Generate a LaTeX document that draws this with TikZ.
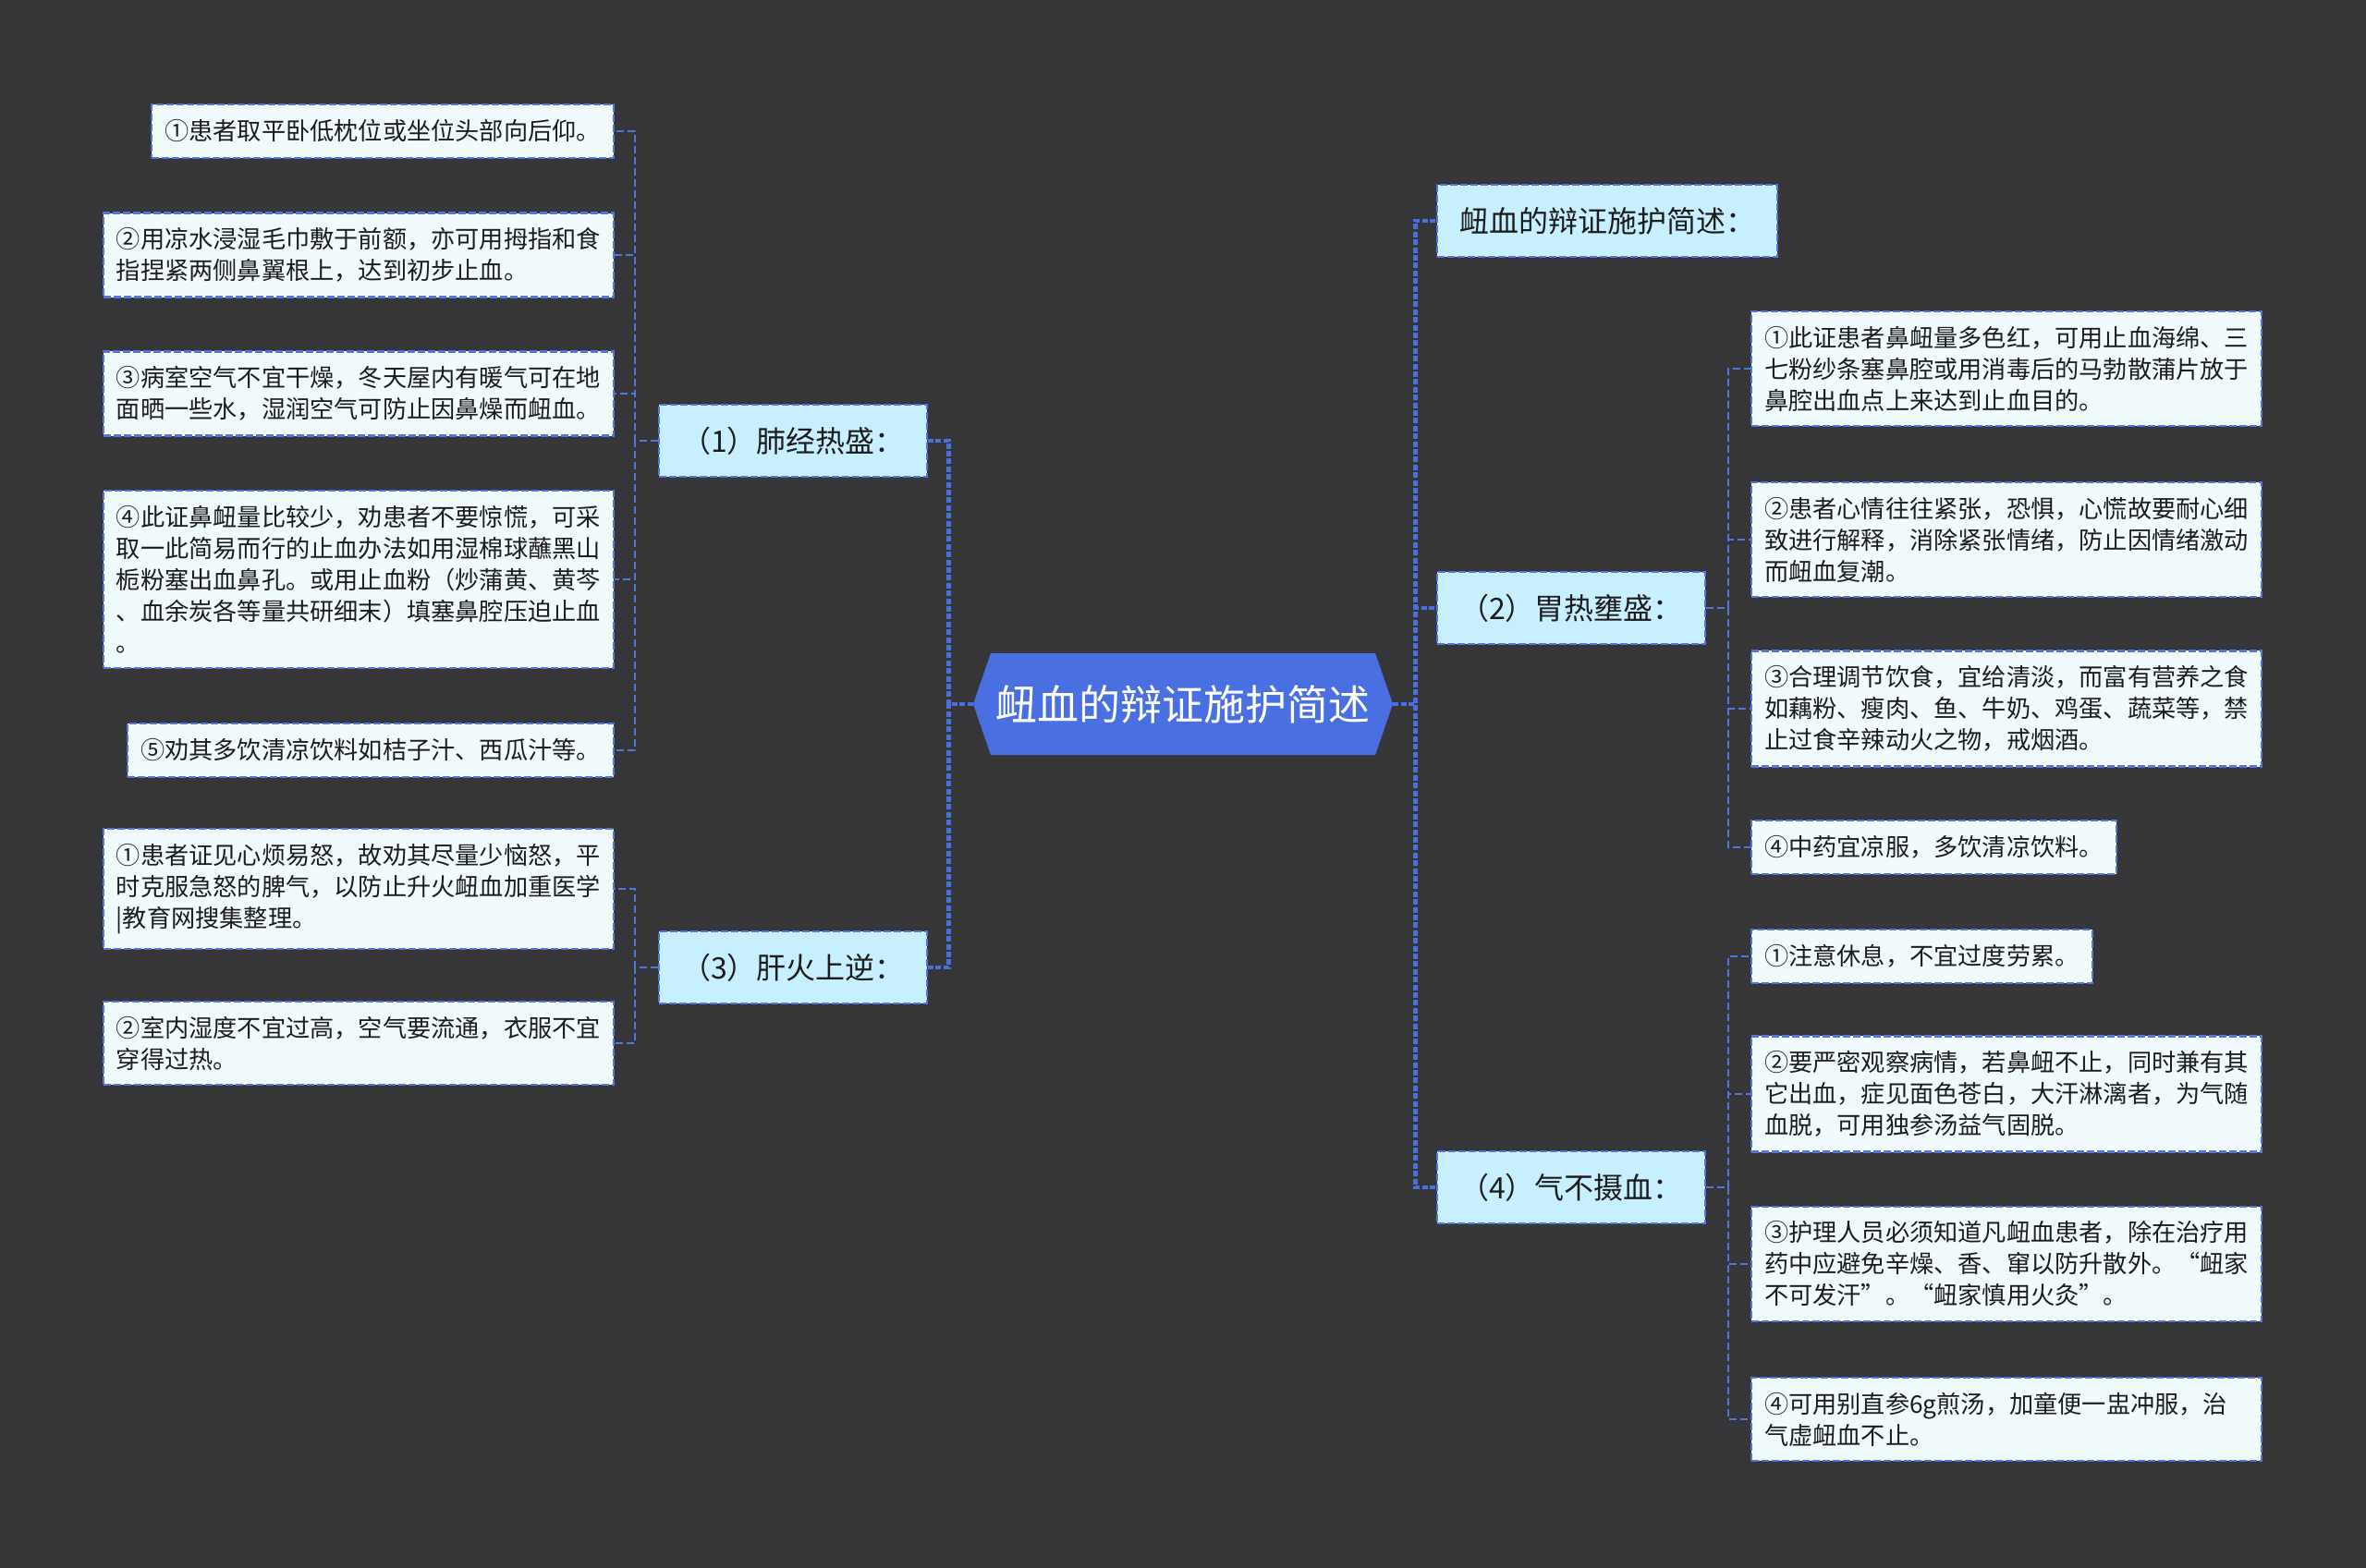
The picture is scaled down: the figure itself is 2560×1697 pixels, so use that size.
\documentclass[tikz,border=0pt]{standalone}
\usepackage{fontspec}
\setmainfont{Noto Sans CJK SC}
\usetikzlibrary{positioning,shapes.symbols}
\definecolor{Board}{HTML}{363538}
\definecolor{Royal}{HTML}{4A6FE1}
\definecolor{Edge}{HTML}{5375DC}
\definecolor{Sky}{HTML}{C8EFFE}
\definecolor{Frost}{HTML}{F1FBFE}
\definecolor{Ink}{HTML}{1C1C1C}
\tikzset{
  rootbox/.style={shape=signal,signal to=west and east,signal pointer angle=142,fill=Royal,text=white,minimum width=227pt,minimum height=55pt,inner sep=0pt,font=\fontsize{22.5}{26}\selectfont},
  branchbox/.style={draw=Edge,dash pattern=on 4pt off 1.5pt,line width=1.1pt,fill=Sky,text=Ink,minimum height=39pt,inner xsep=12pt,font=\fontsize{16}{20}\selectfont},
  leafbox/.style={draw=Edge,dash pattern=on 4pt off 1.5pt,line width=1.1pt,fill=Frost,text=Ink,align=left,inner xsep=7pt,inner ysep=8pt,minimum height=29pt,font=\fontsize{13.1}{17}\selectfont},
  widebox/.style={leafbox,text width=262pt},
  trunk/.style={draw=Royal,line width=2.2pt,dash pattern=on 3pt off 1.2pt},
  twig/.style={draw=Edge,line width=1pt,dash pattern=on 4pt off 2pt}
}

\begin{document}
\begin{tikzpicture}[x=0.5pt,y=-0.5pt]
  \fill[Board] (0,0) rectangle (2560,1697);
  \useasboundingbox (0,0) rectangle (2560,1697);

  \node[rootbox] (root) at (1280,762) {衄血的辩证施护简述};

  % left side
  \node[branchbox,anchor=east] (b1) at (1004,477) {（1）肺经热盛：};
  \node[branchbox,anchor=east] (b3) at (1004,1047) {（3）肝火上逆：};

  \node[leafbox,anchor=east] (l11) at (665,142) {①患者取平卧低枕位或坐位头部向后仰。};
  \node[widebox,anchor=east] (l12) at (665,276) {②用凉水浸湿毛巾敷于前额，亦可用拇指和食\\指捏紧两侧鼻翼根上，达到初步止血。};
  \node[widebox,anchor=east] (l13) at (665,426) {③病室空气不宜干燥，冬天屋内有暖气可在地\\面晒一些水，湿润空气可防止因鼻燥而衄血。};
  \node[widebox,anchor=east] (l14) at (665,627) {④此证鼻衄量比较少，劝患者不要惊慌，可采\\取一此简易而行的止血办法如用湿棉球蘸黑山\\栀粉塞出血鼻孔。或用止血粉（炒蒲黄、黄芩\\、血余炭各等量共研细末）填塞鼻腔压迫止血\\。};
  \node[leafbox,anchor=east] (l15) at (665,812) {⑤劝其多饮清凉饮料如桔子汁、西瓜汁等。};

  \node[widebox,anchor=east] (l31) at (665,962) {①患者证见心烦易怒，故劝其尽量少恼怒，平\\时克服急怒的脾气，以防止升火衄血加重医学\\|教育网搜集整理。};
  \node[widebox,anchor=east] (l32) at (665,1129) {②室内湿度不宜过高，空气要流通，衣服不宜\\穿得过热。};

  % right side
  \node[branchbox,anchor=west] (b0) at (1554,239) {衄血的辩证施护简述：};
  \node[branchbox,anchor=west] (b2) at (1554,658) {（2）胃热壅盛：};
  \node[branchbox,anchor=west] (b4) at (1554,1285) {（4）气不摄血：};

  \node[widebox,anchor=west] (r21) at (1894,399) {①此证患者鼻衄量多色红，可用止血海绵、三\\七粉纱条塞鼻腔或用消毒后的马勃散蒲片放于\\鼻腔出血点上来达到止血目的。};
  \node[widebox,anchor=west] (r22) at (1894,584) {②患者心情往往紧张，恐惧，心慌故要耐心细\\致进行解释，消除紧张情绪，防止因情绪激动\\而衄血复潮。};
  \node[widebox,anchor=west] (r23) at (1894,767) {③合理调节饮食，宜给清淡，而富有营养之食\\如藕粉、瘦肉、鱼、牛奶、鸡蛋、蔬菜等，禁\\止过食辛辣动火之物，戒烟酒。};
  \node[leafbox,anchor=west] (r24) at (1894,917) {④中药宜凉服，多饮清凉饮料。};

  \node[leafbox,anchor=west] (r41) at (1894,1035) {①注意休息，不宜过度劳累。};
  \node[widebox,anchor=west] (r42) at (1894,1184) {②要严密观察病情，若鼻衄不止，同时兼有其\\它出血，症见面色苍白，大汗淋漓者，为气随\\血脱，可用独参汤益气固脱。};
  \node[widebox,anchor=west] (r43) at (1894,1368) {③护理人员必须知道凡衄血患者，除在治疗用\\药中应避免辛燥、香、窜以防升散外。“衄家\\不可发汗”。“衄家慎用火灸”。};
  \node[widebox,anchor=west] (r44) at (1894,1536) {④可用别直参6g煎汤，加童便一盅冲服，治\\气虚衄血不止。};

  % connectors
  \foreach \b in {b1,b3}
    \draw[trunk] (root.west) -- ++(-26,0) |- (\b.east);
  \foreach \b in {b0,b2,b4}
    \draw[trunk] (root.east) -- ++(24,0) |- (\b.west);
  \foreach \l in {l11,l12,l13,l14,l15}
    \draw[twig] (b1.west) -- ++(-25,0) |- (\l.east);
  \foreach \l in {l31,l32}
    \draw[twig] (b3.west) -- ++(-25,0) |- (\l.east);
  \foreach \r in {r21,r22,r23,r24}
    \draw[twig] (b2.east) -- ++(24,0) |- (\r.west);
  \foreach \r in {r41,r42,r43,r44}
    \draw[twig] (b4.east) -- ++(24,0) |- (\r.west);
\end{tikzpicture}
\end{document}
